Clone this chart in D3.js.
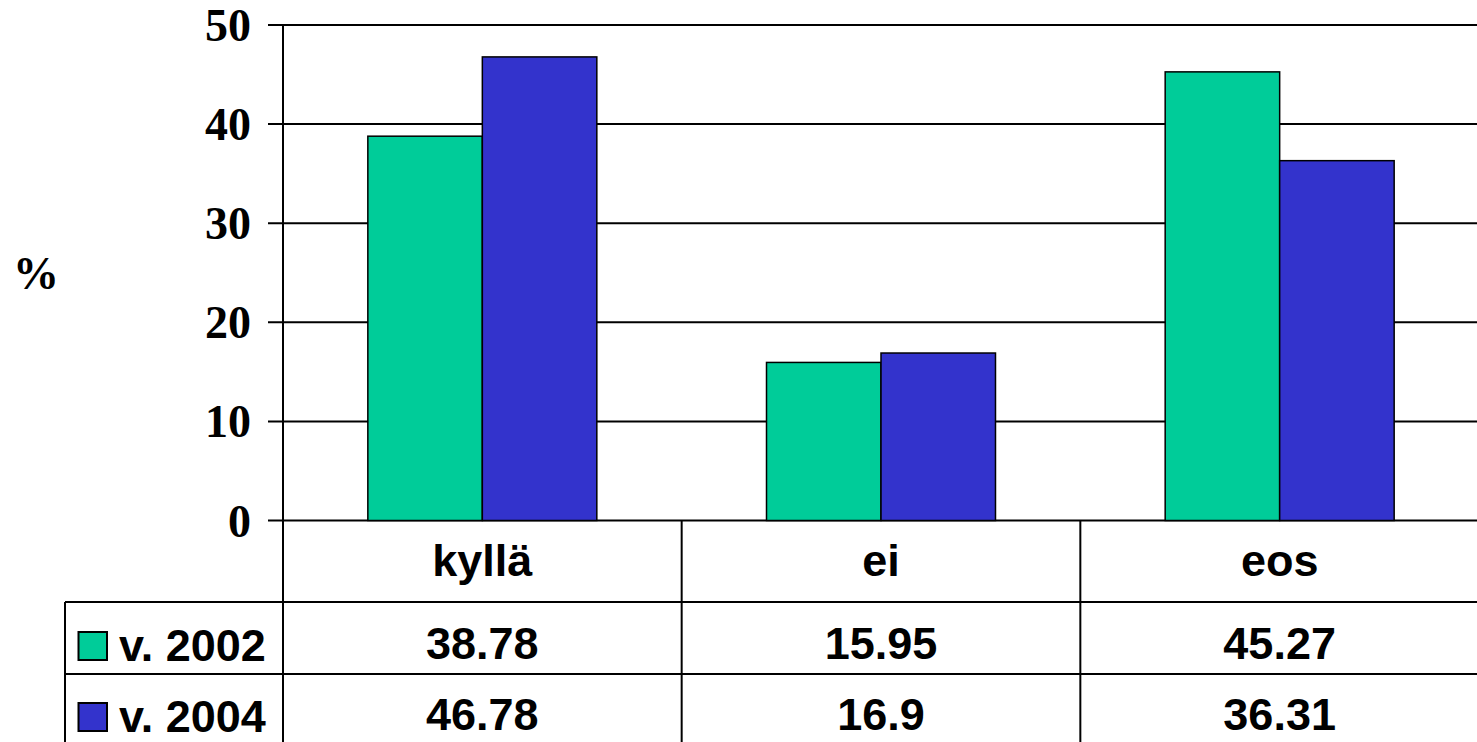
<!DOCTYPE html>
<html>
<head>
<meta charset="utf-8">
<script src="https://cdn.jsdelivr.net/npm/d3@7"></script>
<style>
  body { margin: 0; background: #fff; }
  svg { display: block; }
  .axis-label { font-family: "Liberation Serif", "Times New Roman", serif; font-weight: bold; }
  .cell { font-family: "Liberation Sans", Arial, sans-serif; font-weight: bold; }
</style>
</head>
<body>
<div id="chart"></div>
<script>
const categories = ['kyllä', 'ei', 'eos'];
const series = ['v. 2002', 'v. 2004'];
const values2002 = [38.78, 15.95, 45.27];
const values2004 = [46.78, 16.9, 36.31];
const valueLabels2002 = ['38.78', '15.95', '45.27'];
const valueLabels2004 = ['46.78', '16.9', '36.31'];
const yTicks = [0, 10, 20, 30, 40, 50];
const colors = ['#00CC99', '#3333CC'];

const w = 1477, h = 742;
const plot = {left: 283, right: 1479, top: 25, bottom: 520.5};
const rowBottoms = [602, 674, 746];
const tableLeft = 65;

const svg = d3.select('#chart').append('svg')
    .attr('width', w)
    .attr('height', h);

const x = d3.scaleBand()
    .domain(categories)
    .range([plot.left, plot.right]);

const xInner = d3.scaleBand()
    .domain(series)
    .range([0, x.bandwidth()])
    .paddingOuter(0.741);

const y = d3.scaleLinear()
    .domain([0, 50])
    .range([plot.bottom, plot.top]);

// gridlines + ticks
svg.append('g')
    .selectAll('line')
    .data(yTicks)
    .enter().append('line')
    .attr('x1', 268)
    .attr('x2', plot.right)
    .attr('y1', d => y(d))
    .attr('y2', d => y(d))
    .attr('stroke', '#000')
    .attr('stroke-width', 2);

svg.append('g')
    .selectAll('text')
    .data(yTicks)
    .enter().append('text')
    .attr('class', 'axis-label')
    .attr('x', 251)
    .attr('y', d => y(d) + 16)
    .attr('text-anchor', 'end')
    .style('font-size', '46px')
    .text(d => d);

svg.append('text')
    .attr('class', 'axis-label')
    .attr('x', 13)
    .attr('y', 289)
    .style('font-size', '46px')
    .text('%');

// bars
const seriesData = [values2002, values2004];
const bars = svg.append('g');
series.forEach(function (s, si) {
    bars.selectAll('rect.s' + si)
        .data(seriesData[si])
        .enter().append('rect')
        .attr('class', 's' + si)
        .attr('x', (d, i) => x(categories[i]) + xInner(s))
        .attr('width', xInner.bandwidth())
        .attr('y', d => y(d))
        .attr('height', d => y(0) - y(d))
        .attr('fill', colors[si])
        .attr('stroke', '#000')
        .attr('stroke-width', 1.5);
});

// data table
const table = svg.append('g');

// vertical lines: axis + category separators
table.selectAll('line.v')
    .data(categories)
    .enter().append('line')
    .attr('class', 'v')
    .attr('x1', d => x(d))
    .attr('x2', d => x(d))
    .attr('y1', (d, i) => i === 0 ? plot.top : plot.bottom)
    .attr('y2', h)
    .attr('stroke', '#000')
    .attr('stroke-width', 2);

table.append('line')
    .attr('x1', tableLeft).attr('x2', tableLeft)
    .attr('y1', rowBottoms[0]).attr('y2', h)
    .attr('stroke', '#000').attr('stroke-width', 2);

table.selectAll('line.h')
    .data(rowBottoms.slice(0, 2))
    .enter().append('line')
    .attr('class', 'h')
    .attr('x1', tableLeft)
    .attr('x2', plot.right)
    .attr('y1', d => d)
    .attr('y2', d => d)
    .attr('stroke', '#000')
    .attr('stroke-width', 2);

// header row
table.selectAll('text.head')
    .data(categories)
    .enter().append('text')
    .attr('class', 'cell head')
    .attr('x', d => x(d) + x.bandwidth() / 2)
    .attr('y', 576)
    .attr('text-anchor', 'middle')
    .style('font-size', '45px')
    .text(d => d);

const rowLabels = [valueLabels2002, valueLabels2004];
const rowBaselines = [659, 730];
const swatchTops = [632, 703];

rowLabels.forEach(function (labels, ri) {
    table.selectAll('text.r' + ri)
        .data(labels)
        .enter().append('text')
        .attr('class', 'cell r' + ri)
        .attr('x', (d, i) => x(categories[i]) + x.bandwidth() / 2)
        .attr('y', rowBaselines[ri])
        .attr('text-anchor', 'middle')
        .style('font-size', '45px')
        .text(d => d);

    table.append('rect')
        .attr('x', 78.5)
        .attr('y', swatchTops[ri])
        .attr('width', 28.5)
        .attr('height', 28)
        .attr('fill', colors[ri])
        .attr('stroke', '#000')
        .attr('stroke-width', 2);

    table.append('text')
        .attr('class', 'cell')
        .attr('x', 119)
        .attr('y', rowBaselines[ri] + 2)
        .style('font-size', '45px')
        .text(series[ri]);
});
</script>
</body>
</html>
